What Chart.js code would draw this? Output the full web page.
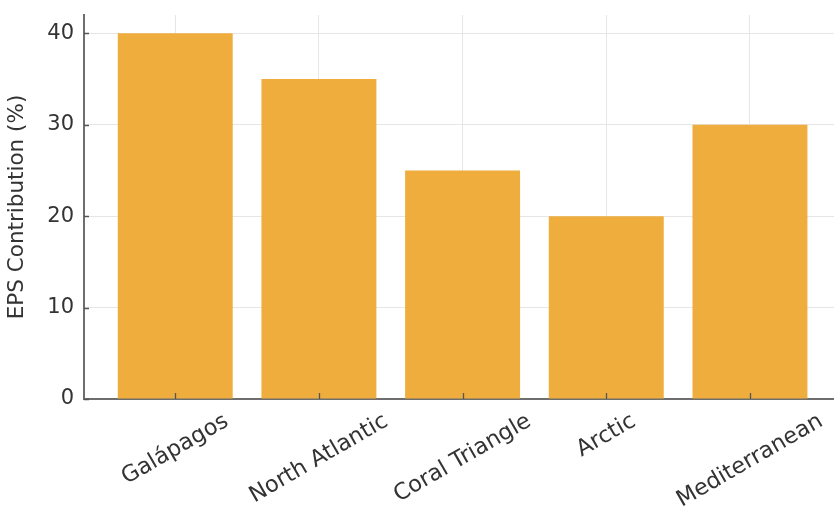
<!DOCTYPE html>
<html>
<head>
<meta charset="utf-8">
<script src="https://cdn.jsdelivr.net/npm/chart.js@4/dist/chart.umd.min.js"></script>
<style>
  html, body { margin: 0; padding: 0; background: #ffffff; overflow: hidden; }
  #wrap { width: 834px; height: 512px; }
</style>
</head>
<body>
<div id="wrap"><canvas id="c" width="834" height="512"></canvas></div>
<script>
const categories = ["Galápagos", "North Atlantic", "Coral Triangle", "Arctic", "Mediterranean"];
const epsValues = [40, 35, 25, 20, 30];
const yTicks = [0, 10, 20, 30, 40];
const yTitle = "EPS Contribution (%)";

const FONT = "DejaVu Sans";
const TEXT = "#333333";
const AXIS = "#6e6e6e";
const GRID = "#e6e6e6";
const BAR = "rgb(239,173,61)";

const labelsAndTicks = {
  id: "labelsAndTicks",
  afterDraw(chart) {
    const ctx = chart.ctx;
    const xs = chart.scales.x, ys = chart.scales.y;
    const area = chart.chartArea;
    ctx.save();
    ctx.strokeStyle = "#555555";
    ctx.lineWidth = 1.3;
    ctx.beginPath();
    yTicks.forEach(v => {
      const y = Math.round(ys.getPixelForValue(v)) + 0.5;
      ctx.moveTo(area.left, y);
      ctx.lineTo(area.left + 5, y);
    });
    categories.forEach((c, i) => {
      const x = Math.round(xs.getPixelForValue(i)) + 0.5;
      ctx.moveTo(x, area.bottom);
      ctx.lineTo(x, area.bottom - 6);
    });
    ctx.stroke();
    const ang = 30 * Math.PI / 180;
    const fs = 22.5;
    ctx.font = fs + "px '" + FONT + "'";
    ctx.fillStyle = TEXT;
    ctx.textAlign = "center";
    ctx.textBaseline = "middle";
    categories.forEach((c, i) => {
      const w = ctx.measureText(c).width;
      const h = fs * 1.0;
      const H = w * Math.sin(ang) + h * Math.cos(ang);
      const cx = xs.getPixelForValue(i);
      const cy = area.bottom + 11 + H / 2;
      ctx.save();
      ctx.translate(cx, cy);
      ctx.rotate(-ang);
      ctx.fillText(c, 0, 0);
      ctx.restore();
    });
    ctx.restore();
  }
};

new Chart(document.getElementById("c"), {
  type: "bar",
  data: {
    datasets: [{
      data: epsValues.map((v, i) => ({ x: i, y: v })),
      backgroundColor: BAR,
      borderWidth: 0,
      barPercentage: 0.8,
      categoryPercentage: 1.0
    }]
  },
  options: {
    responsive: false,
    animation: false,
    devicePixelRatio: 1,
    layout: { padding: { top: 15, right: 0, left: 0, bottom: 0 } },
    plugins: { legend: { display: false }, tooltip: { enabled: false } },
    scales: {
      x: {
        type: "linear",
        offset: false,
        min: -0.635,
        max: 4.585,
        afterBuildTicks: s => { s.ticks = categories.map((c, i) => ({ value: i })); },
        ticks: { display: false },
        grid: { color: GRID, lineWidth: 1, drawTicks: false, offset: false },
        border: { color: AXIS, width: 2 },
        afterFit: s => { s.height = 113; s.paddingLeft = 0; s.paddingRight = 0; }
      },
      y: {
        type: "linear",
        min: 0,
        max: 42,
        afterBuildTicks: s => { s.ticks = yTicks.map(v => ({ value: v })); },
        ticks: {
          font: { family: FONT, size: 21 },
          color: TEXT,
          padding: 10
        },
        grid: { color: GRID, lineWidth: 1, drawTicks: false },
        border: { color: AXIS, width: 2 },
        title: {
          display: true,
          text: yTitle,
          font: { family: FONT, size: 21.5 },
          color: TEXT,
          padding: { top: 5, bottom: 0 }
        },
        afterFit: s => { s.width = 84; s.paddingTop = 0; s.paddingBottom = 0; }
      }
    }
  },
  plugins: [labelsAndTicks]
});
</script>
</body>
</html>
